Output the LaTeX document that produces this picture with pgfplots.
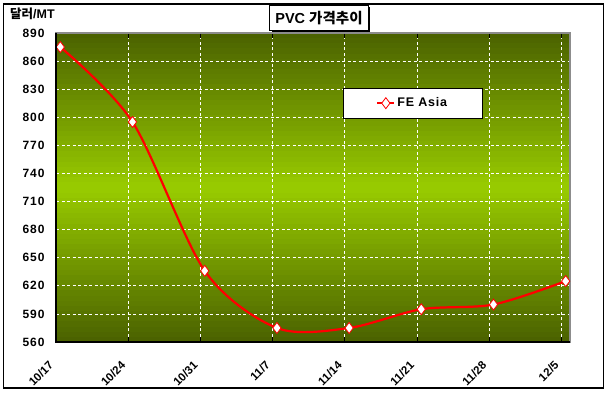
\documentclass[border=0pt]{standalone}
\usepackage{pgfplots}
\pgfplotsset{compat=1.18}
\usepackage{fontspec}
\setmainfont{Liberation Sans}
\newfontfamily\kr{Noto Sans CJK KR}
\usetikzlibrary{shadows}
\definecolor{olivedark}{RGB}{74,97,0}
\definecolor{olivebright}{RGB}{153,204,0}
\pgfplotstableread{
x y
0.06 875
1.06 795
2.06 636
3.06 575
4.06 575
5.06 595
6.06 600
7.06 625
}\fedata
\begin{document}
\begin{tikzpicture}[x=1pt,y=1pt]
\path[fill=white] (0,0) rectangle (609,393);
\draw[black, line width=1.2pt] (3.5,5) rectangle (603.5,389);
% plot-area background gradient (dark - bright - dark)
\foreach \i in {0,...,59}{
  \pgfmathsetmacro{\yy}{51+\i*5.15}
  \pgfmathsetmacro{\yt}{51+(\i+1)*5.15+0.3}
  \pgfmathsetmacro{\p}{int(100*(1-abs(\i+0.5-30)/30))}
  \colorlet{stripc}{olivebright!\p!olivedark}
  \fill[stripc] (56,\yy) rectangle (570,\yt);
}
\node[draw=black, line width=1pt, fill=white, inner xsep=5.5pt, minimum height=25pt,
      drop shadow={shadow xshift=2pt, shadow yshift=-2pt, opacity=1, fill=black}]
  at (319,375) {\bfseries\fontsize{14.5}{16}\selectfont PVC {\kr\bfseries 가격추이}};
\node[anchor=west, inner sep=0pt] at (10,379) {\bfseries\fontsize{12.5}{14}\selectfont{\kr\bfseries 달러}/MT};
\begin{axis}[
  at={(56pt,51pt)}, anchor=south west,
  scale only axis, width=514pt, height=309pt,
  xmin=0, xmax=7.12, ymin=560, ymax=890,
  xtick={0,1,2,3,4,5,6,7},
  xticklabels={10/17,10/24,10/31,11/7,11/14,11/21,11/28,12/5},
  ytick={560,590,...,890},
  grid=major,
  major grid style={white, line width=0.8pt, dash pattern=on 3pt off 2.5pt},
  axis line style={draw=gray!90, line width=1.6pt},
  tick align=inside,
  xtick style={black, line width=0.8pt},
  major tick length=5pt,
  ytick style={draw=none},
  /pgf/number format/assume math mode=true,
  yticklabel style={font=\bfseries\fontsize{12}{14}\selectfont\addfontfeature{LetterSpace=8}, xshift=-8pt},
  xticklabel style={font=\bfseries\fontsize{11.5}{13}\selectfont, rotate=45, anchor=north east, xshift=-15pt, yshift=-3.8pt},
  legend style={at={(0.558,0.822)}, anchor=north west, draw=black, line width=0.8pt, fill=white,
    inner xsep=33pt, inner ysep=7.5pt, font=\bfseries\fontsize{12.5}{14}\selectfont\addfontfeature{LetterSpace=6}},
  legend cell align=left,
  after end axis/.code={
    \draw[black, line width=1.2pt] (rel axis cs:0,1) -- (rel axis cs:0,0) -- (rel axis cs:1,0);
  },
]
\addplot[red, line width=2.2pt, smooth, mark=diamond*, mark size=5.5pt,
  mark options={fill=white, draw=red, line width=0.8pt}] table {\fedata};
\addlegendentry{FE Asia}
\end{axis}
\end{tikzpicture}
\end{document}
